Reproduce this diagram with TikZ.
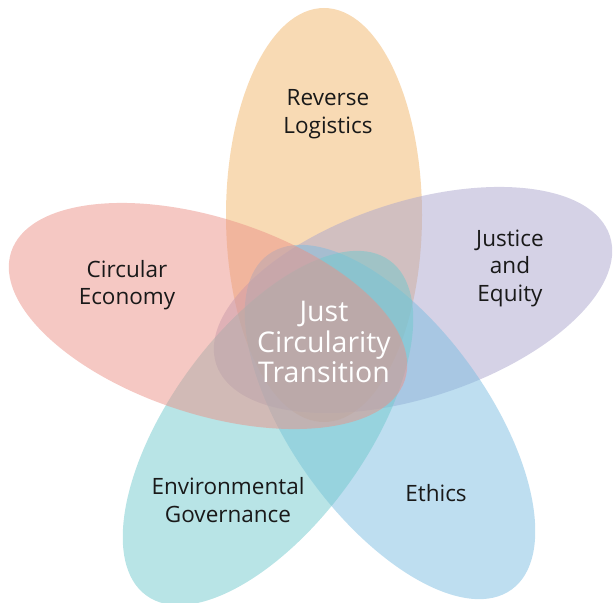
\documentclass[tikz,border=0pt]{standalone}
\usepackage{fontspec}
\setmainfont{Open Sans}
\usetikzlibrary{shapes.geometric}
\definecolor{cOrange}{RGB}{241,181,105}
\definecolor{cPurple}{RGB}{171,165,205}
\definecolor{cBlue}{RGB}{125,189,225}
\definecolor{cTeal}{RGB}{113,201,205}
\definecolor{cRed}{RGB}{235,145,135}
\begin{document}
\begin{tikzpicture}[x=1pt,y=1pt,
  petal/.style={ellipse, draw=none, fill opacity=0.5, inner sep=0pt,
    minimum width=414pt, minimum height=196pt},
  lbl/.style={align=center, text=black!90, font=\fontsize{22.5}{27.5}\selectfont},
  hub/.style={align=center, text=white, font=\fontsize{28.5}{30.5}\selectfont}]
\useasboundingbox (0,0) rectangle (615,-602);
\node[petal, fill=cOrange, rotate=90]  (pOrange) at (324,-215) {};
\node[petal, fill=cPurple, rotate=18]  (pPurple) at (413,-300) {};
\node[petal, fill=cBlue,   rotate=-54] (pBlue)   at (390,-422) {};
\node[petal, fill=cTeal,   rotate=54]  (pTeal)   at (268,-428) {};
\node[petal, fill=cRed,    rotate=-18] (pRed)    at (208,-316) {};
\node[lbl] (lRev) at (328,-114) {Reverse\\Logistics};
\node[lbl] (lCirc) at (127,-285) {Circular\\Economy};
\node[lbl] (lJust) at (510,-268) {Justice\\and\\Equity};
\node[lbl] (lEnv) at (228,-500) {Environmental\\Governance};
\node[lbl] (lEth) at (436,-493) {Ethics};
\node[hub] (lHub) at (324,-342) {Just\\Circularity\\Transition};
\end{tikzpicture}
\end{document}
